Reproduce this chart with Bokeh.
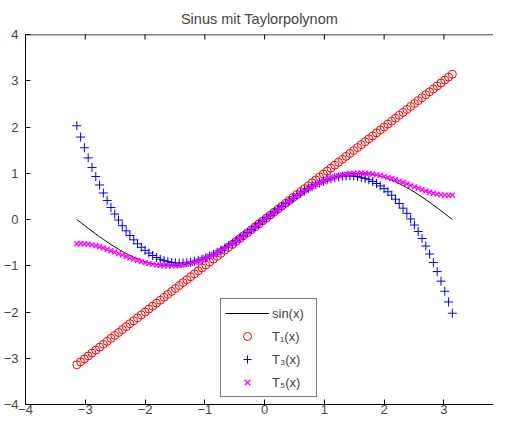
import numpy as np
from bokeh.plotting import figure
from bokeh.models import LinearAxis, FixedTicker, Legend, LegendItem, Range1d, Span
from bokeh.embed import file_html
from bokeh.resources import INLINE

# data
n_points = 100
x_start, x_end = -np.pi, np.pi
# Taylor coefficients of sin(x): x - x^3/6 + x^5/120
taylor_coeffs = [1.0, -1.0 / 6.0, 1.0 / 120.0]
x_ticks = [-4, -3, -2, -1, 0, 1, 2, 3, 4]
y_ticks = [-4, -3, -2, -1, 0, 1, 2, 3, 4]
title_text = "Sinus mit Taylorpolynom"
legend_labels = ["sin(x)", "T\u2081(x)", "T\u2083(x)", "T\u2085(x)"]

x = np.linspace(x_start, x_end, n_points)
y_sin = np.sin(x)
t1 = taylor_coeffs[0] * x
t3 = t1 + taylor_coeffs[1] * x ** 3
t5 = t3 + taylor_coeffs[2] * x ** 5

def lab(v):
    return str(v).replace("-", "\u2212")

FONT = "Liberation Sans"
Y_MIN, Y_MAX = -4, 4

p = figure(width=493, height=416, output_backend="svg", toolbar_location=None,
           x_range=Range1d(-4, 3.83), y_range=Range1d(Y_MIN, Y_MAX),
           x_axis_location=None, y_axis_location=None,
           min_border_left=21, min_border_right=0, min_border_top=27, min_border_bottom=0)
p.title.text = title_text
p.title.align = "center"
p.title.text_font = FONT
p.title.text_font_size = "14.5px"
p.title.text_font_style = "normal"
p.title.standoff = 16
p.outline_line_color = None
p.xgrid.visible = False
p.ygrid.visible = False

def style(ax, ticks):
    ax.ticker = FixedTicker(ticks=ticks)
    ax.major_label_overrides = {t: lab(t) for t in ticks}
    ax.major_tick_in = 5
    ax.major_tick_out = 0
    ax.minor_tick_in = 0
    ax.minor_tick_out = 0
    ax.axis_line_color = "black"
    ax.axis_line_width = 1
    ax.major_tick_line_color = "black"
    ax.major_label_text_font = FONT
    ax.major_label_text_font_size = "13px"
    ax.major_label_standoff = 0

xb = LinearAxis(); style(xb, x_ticks); p.add_layout(xb, "below")
yl = LinearAxis(); style(yl, y_ticks); yl.major_label_standoff = 7; p.add_layout(yl, "left")

# top frame line with inward ticks
p.add_layout(Span(location=Y_MAX, dimension="width", line_color="black", line_width=1.5))
p.scatter(x_ticks, [Y_MAX] * len(x_ticks), marker="dash", angle=np.pi / 2, size=10,
          line_color="black", line_width=1)

r_sin = p.line(x, y_sin, line_color="black", line_width=1)
r_t1 = p.scatter(x, t1, marker="circle", size=8, fill_color=None, line_color="#ff0000", line_width=1)
r_t3 = p.scatter(x, t3, marker="cross", size=9, line_color="#0000ff", line_width=1)
r_t5 = p.scatter(x, t5, marker="x", size=7, line_color="#ff00ff", line_width=1.3)

legend = Legend(items=[LegendItem(label=legend_labels[0], renderers=[r_sin]),
                       LegendItem(label=legend_labels[1], renderers=[r_t1]),
                       LegendItem(label=legend_labels[2], renderers=[r_t3]),
                       LegendItem(label=legend_labels[3], renderers=[r_t5])],
                location=(195, 7))
legend.border_line_color = "black"
legend.border_line_width = 1
legend.background_fill_alpha = 1
legend.label_text_font = FONT
legend.label_text_font_size = "13px"
legend.glyph_width = 44
legend.glyph_height = 20
legend.label_height = 20
legend.label_width = 40
legend.spacing = 3
legend.padding = 4
legend.margin = 0
legend.label_standoff = 3
p.add_layout(legend, "center")

open("out.html", "w").write(file_html(p, INLINE))
